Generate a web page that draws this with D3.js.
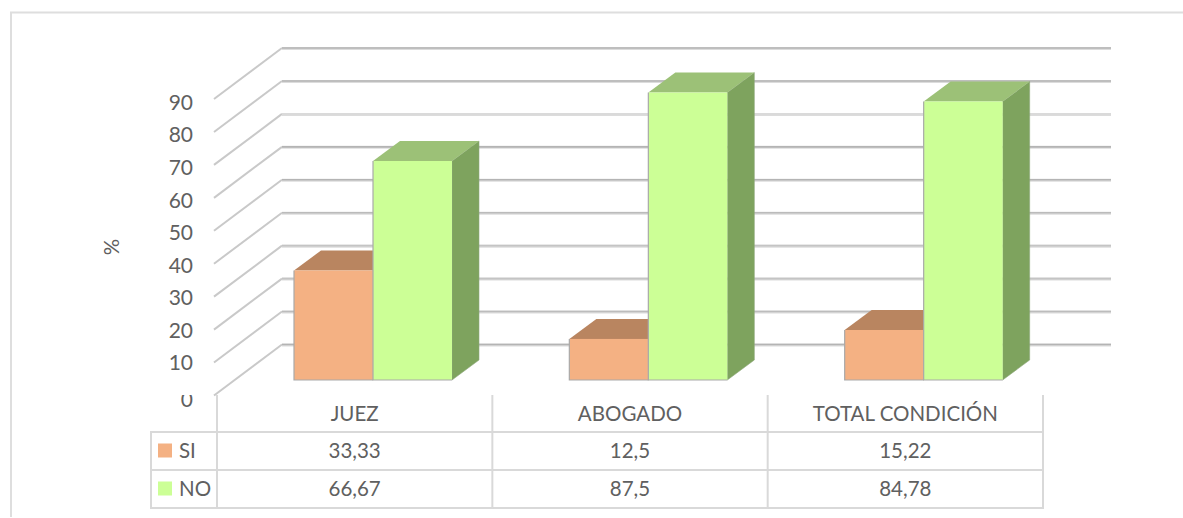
<!DOCTYPE html>
<html>
<head>
<meta charset="utf-8">
<script src="https://d3js.org/d3.v7.min.js"></script>
<style>
  html, body { margin: 0; padding: 0; background: #fff; overflow: hidden; }
  text { font-family: Lato, "Open Sans", sans-serif; fill: #606060; }
</style>
</head>
<body>
<script>
// Chart values
var categories = ["JUEZ", "ABOGADO", "TOTAL CONDICIÓN"]
var series = ["SI", "NO"]
var si_values = [33.33, 12.5, 15.22]
var no_values = [66.67, 87.5, 84.78]
var si_labels = ["33,33", "12,5", "15,22"]
var no_labels = ["66,67", "87,5", "84,78"]
var y_ticks = [0, 10, 20, 30, 40, 50, 60, 70, 80, 90]

// Colours per series: front, top, side
var colors = {
  SI: ["#f4b183", "#b98560", "#a87a58"],
  NO: ["#ccff96", "#9cc177", "#7ea35e"]
}

// Grid line colour, one for every tick
var grid_tones = ["#b4b4b4", "#bcbcbc", "#c4c4c4", "#c4c4c4", "#bbbbbb", "#b4b4b4", "#b4b4b4", "#dadada", "#b4b4b4", "#b4b4b4"]

var width = 1183
var height = 518

// 3d offset of the chart floor
var depth_x = 68
var depth_y = 51
var bar_dx = 27
var bar_dy = 20

var svg = d3.select("body").append("svg")
    .attr("width", width)
    .attr("height", height)

// Frame, no right or bottom edge
svg.append("path")
    .attr("d", "M11,517V12.5H1183")
    .attr("fill", "none")
    .attr("stroke", "#dedede")
    .attr("stroke-width", 2)

// Scales
var y_back = d3.scaleLinear().domain([0, 90]).range([344.5, 48])
var y_label = d3.scaleLinear().domain([0, 90]).range([395, 101.7])
var y_bar = d3.scaleLinear().domain([0, 90]).range([380, 380 - 3.285 * 90])
var x_cat = d3.scaleBand().domain(categories).range([217, 1043])
var x_series = d3.scaleBand().domain(series).range([0, 158])
var bar_shift = 77

// Grid lines, side wall and back wall
var grid = svg.append("g").selectAll("g")
    .data(y_ticks)
    .enter().append("g")

grid.append("path")
    .attr("d", function(d) {
      return "M" + 214 + "," + (y_back(d) + depth_y) + "L" + (214 + depth_x) + "," + y_back(d);
    })
    .attr("fill", "none")
    .attr("stroke", "#c9c9c9")
    .attr("stroke-width", 2)

grid.append("line")
    .attr("x1", 214 + depth_x)
    .attr("x2", 1111)
    .attr("y1", function(d) { return y_back(d) + 0.5; })
    .attr("y2", function(d) { return y_back(d) + 0.5; })
    .attr("stroke", "#dcdcdc")
    .attr("stroke-width", 3)

grid.append("line")
    .attr("x1", 214 + depth_x)
    .attr("x2", 1111)
    .attr("y1", function(d) { return y_back(d); })
    .attr("y2", function(d) { return y_back(d); })
    .attr("stroke", function(d, i) { return grid_tones[i]; })
    .attr("stroke-width", 1.6)

// Value axis
var y_axis = d3.axisLeft(y_label).tickValues(y_ticks).tickSize(0).tickPadding(0)

var axis_g = svg.append("g")
    .attr("transform", "translate(193,0)")
    .call(y_axis)

axis_g.select(".domain").remove()
axis_g.selectAll("text")
    .style("font-size", "21px")
    .attr("font-family", null)
    .attr("dy", function(d) { return d == 0 ? "0.55em" : "0.36em"; })

// The zero label is cut off by the data table in the original
svg.append("rect")
    .attr("x", 165)
    .attr("y", 378)
    .attr("width", 45)
    .attr("height", 17)
    .attr("fill", "#fff")

// Axis title
svg.append("text")
    .attr("transform", "translate(119,247) rotate(-90)")
    .style("text-anchor", "middle")
    .style("font-size", "20.5px")
    .text("%")

// Bars
function drawBars(name, values) {
  var c = colors[name]
  var g = svg.append("g").selectAll("g")
      .data(values)
      .enter().append("g")
      .attr("transform", function(d, i) {
        return "translate(" + (x_cat(categories[i]) + bar_shift + x_series(name)) + ",0)";
      })
  var w = x_series.bandwidth()

  // Side face
  g.append("path")
      .attr("d", function(d) {
        return "M" + w + "," + y_bar(d) + "l" + bar_dx + "," + (-bar_dy) + "V" + (y_bar(0) - bar_dy) + "l" + (-bar_dx) + "," + bar_dy + "Z";
      })
      .attr("fill", c[2])
      .attr("stroke", "#8fa87c")
      .attr("stroke-width", 0.6)

  // Top face
  g.append("path")
      .attr("d", function(d) {
        return "M0," + y_bar(d) + "l" + bar_dx + "," + (-bar_dy) + "h" + w + "l" + (-bar_dx) + "," + bar_dy + "Z";
      })
      .attr("fill", c[1])

  // Front face
  g.append("rect")
      .attr("x", 0)
      .attr("y", function(d) { return y_bar(d); })
      .attr("width", w)
      .attr("height", function(d) { return y_bar(0) - y_bar(d); })
      .attr("fill", c[0])

  // Left and bottom edge
  g.append("path")
      .attr("d", function(d) {
        return "M0," + y_bar(d) + "V" + y_bar(0) + "H" + w;
      })
      .attr("fill", "none")
      .attr("stroke", "#a9a9a9")
      .attr("stroke-width", 1.2)
}

drawBars("SI", si_values)
drawBars("NO", no_values)

// Data table
var table = svg.append("g")
    .attr("fill", "none")
    .attr("stroke", "#d9d9d9")
    .attr("stroke-width", 2)

var row_y = [432, 470, 508]
var col_x = categories.map(function(d) { return x_cat(d); }).concat([x_cat.range()[1]])

table.selectAll(".row")
    .data(row_y)
    .enter().append("line")
    .attr("class", "row")
    .attr("x1", 150)
    .attr("x2", 1044)
    .attr("y1", function(d) { return d; })
    .attr("y2", function(d) { return d; })

table.selectAll(".col")
    .data(col_x)
    .enter().append("line")
    .attr("class", "col")
    .attr("x1", function(d) { return d; })
    .attr("x2", function(d) { return d; })
    .attr("y1", 395)
    .attr("y2", 509)

table.append("line")
    .attr("x1", 151)
    .attr("x2", 151)
    .attr("y1", 431)
    .attr("y2", 509)

function tableRow(labels, y) {
  svg.append("g").selectAll("text")
      .data(labels)
      .enter().append("text")
      .attr("x", function(d, i) { return x_cat(categories[i]) + x_cat.bandwidth() / 2; })
      .attr("y", y)
      .attr("dy", "0.36em")
      .style("text-anchor", "middle")
      .style("font-size", "20.5px")
      .text(function(d) { return d; })
}

tableRow(categories, 414)
tableRow(si_labels, 451)
tableRow(no_labels, 489)

// Legend keys in the table
var key = svg.append("g").selectAll("g")
    .data(series)
    .enter().append("g")
    .attr("transform", function(d, i) { return "translate(0," + (row_y[i] + 19) + ")"; })

key.append("rect")
    .attr("x", 158)
    .attr("y", -7.5)
    .attr("width", 14)
    .attr("height", 14)
    .attr("fill", function(d) { return colors[d][0]; })

key.append("text")
    .attr("x", 179)
    .attr("dy", "0.36em")
    .style("font-size", "20.5px")
    .text(function(d) { return d; })
</script>
</body>
</html>
